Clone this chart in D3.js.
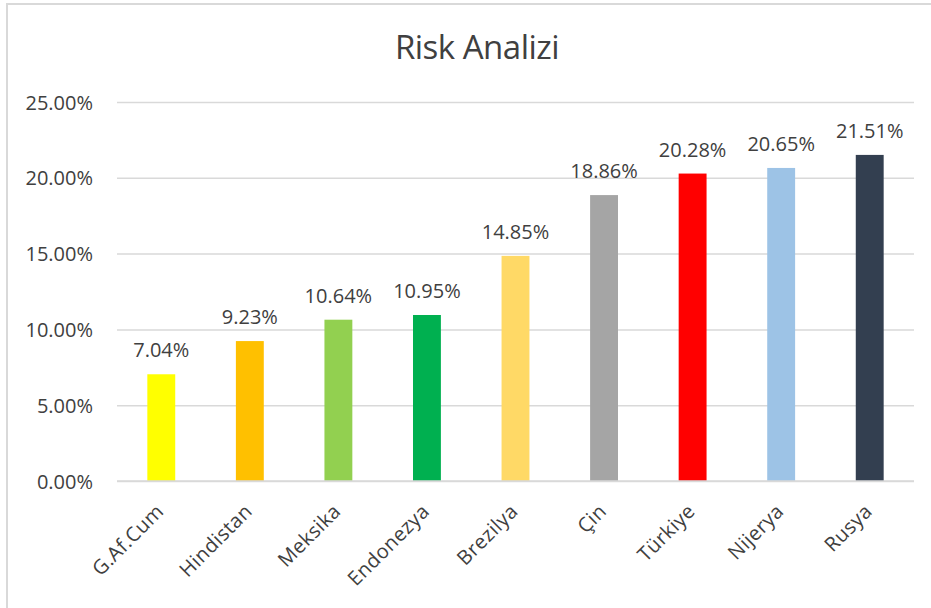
<!DOCTYPE html>
<html>
<head>
<meta charset="utf-8">
<script src="https://cdn.jsdelivr.net/npm/d3@7"></script>
<style>
  html, body { margin: 0; padding: 0; background: #fff; }
  svg text { font-family: "Open Sans", sans-serif; fill: #404040; }
</style>
</head>
<body>
<svg id="chart" width="931" height="608"></svg>
<script>
// data
const countries = ['G.Af.Cum', 'Hindistan', 'Meksika', 'Endonezya', 'Brezilya', 'Çin', 'Türkiye', 'Nijerya', 'Rusya'];
const riskValues = [7.04, 9.23, 10.64, 10.95, 14.85, 18.86, 20.28, 20.65, 21.51];
const barColors = ['#FFFF00', '#FFC000', '#92D050', '#00B050', '#FFD966', '#A5A5A5', '#FF0000', '#9DC3E6', '#333F50'];
const yTicks = [0, 5, 10, 15, 20, 25];

const W = 931, H = 608;
const M = { left: 117, right: 17, top: 102, bottom: 127 };

const svg = d3.select('#chart');

// chart frame (only top and left edges are visible in the crop)
svg.append('path')
  .attr('d', `M7,${H} V4 H${W}`)
  .attr('fill', 'none').attr('stroke', '#d9d9d9').attr('stroke-width', 2);

svg.append('text').attr('x', 477).attr('y', 59)
  .attr('text-anchor', 'middle').attr('font-size', '33px').attr('letter-spacing', '-0.5px')
  .text('Risk Analizi');

const x = d3.scaleBand().domain(countries).range([M.left, W - M.right])
  .paddingInner(0.685).paddingOuter(0.3425);
const y = d3.scaleLinear().domain([0, 25]).range([H - M.bottom, M.top]);

// gridlines + y labels
const yAxis = svg.append('g').attr('transform', `translate(${M.left},0)`)
  .call(d3.axisLeft(y).tickValues(yTicks).tickSize(-(W - M.left - M.right))
    .tickFormat(d => d.toFixed(2) + '%').tickPadding(24));
yAxis.select('.domain').remove();
yAxis.selectAll('line').attr('stroke', '#d9d9d9').attr('stroke-width', 1.5);
yAxis.selectAll('text').attr('font-size', '20px').attr('fill', '#404040').attr('dy', '0.35em');

// bars
svg.append('g').selectAll('rect')
  .data(riskValues).join('rect')
  .attr('x', (d, i) => x(countries[i]))
  .attr('y', d => y(d))
  .attr('width', x.bandwidth())
  .attr('height', d => y(0) - y(d))
  .attr('fill', (d, i) => barColors[i]);

// zero line over bars
svg.append('line').attr('x1', M.left).attr('x2', W - M.right)
  .attr('y1', y(0)).attr('y2', y(0)).attr('stroke', '#d9d9d9').attr('stroke-width', 1.5);

// value labels
svg.append('g').selectAll('text')
  .data(riskValues).join('text')
  .attr('x', (d, i) => x(countries[i]) + x.bandwidth() / 2)
  .attr('y', d => y(d) - 17)
  .attr('text-anchor', 'middle').attr('font-size', '20px')
  .text(d => d.toFixed(2) + '%');

// category labels
svg.append('g').selectAll('text')
  .data(countries).join('text')
  .attr('transform', d => `translate(${x(d) + x.bandwidth() / 2 - 7},${y(0) + 21}) rotate(-45)`)
  .attr('text-anchor', 'end').attr('dy', '0.75em').attr('font-size', '20px')
  .attr('letter-spacing', '0.4px')
  .text(d => d);
</script>
</body>
</html>
